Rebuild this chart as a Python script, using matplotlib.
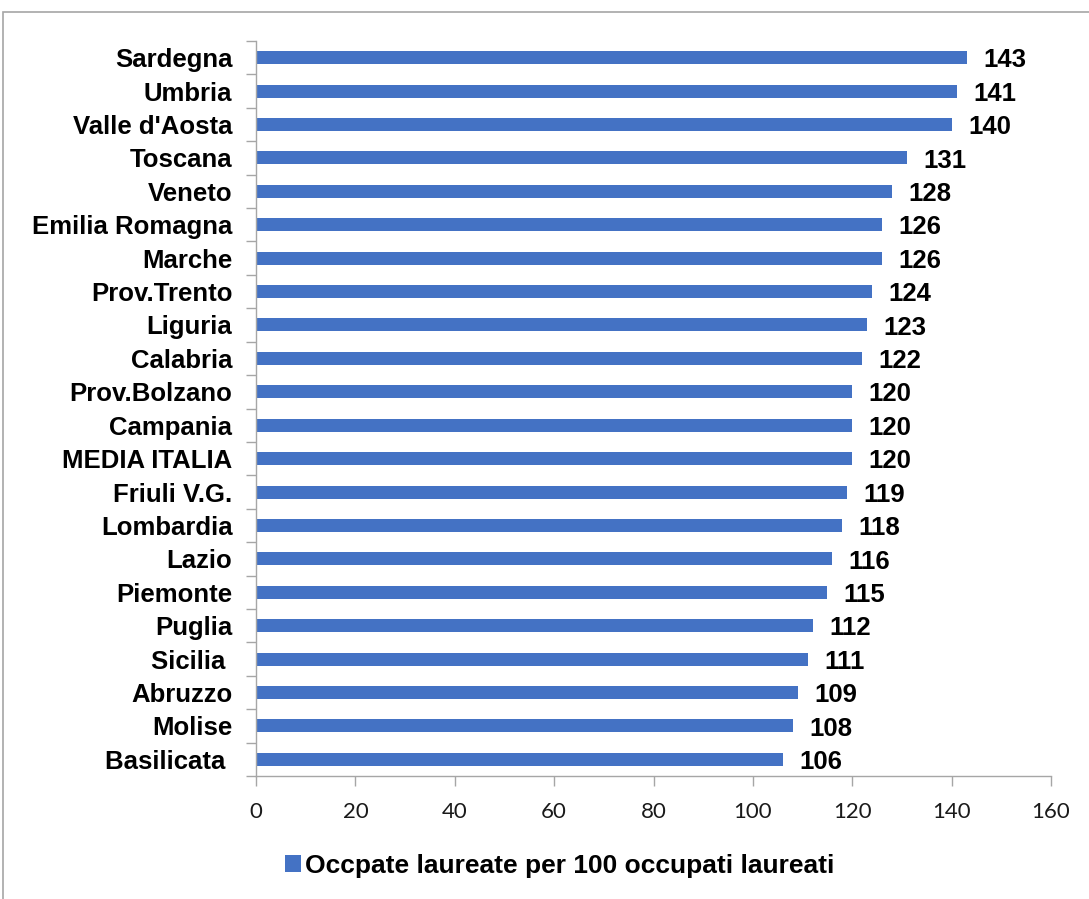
import matplotlib
matplotlib.use("Agg")
import matplotlib.pyplot as plt
from matplotlib.patches import Rectangle
import numpy as np

plt.rcParams['font.family'] = ['Liberation Sans', 'DejaVu Sans']

regions = ["Sardegna", "Umbria", "Valle d'Aosta", "Toscana", "Veneto",
           "Emilia Romagna", "Marche", "Prov.Trento", "Liguria", "Calabria",
           "Prov.Bolzano", "Campania", "MEDIA ITALIA", "Friuli V.G.",
           "Lombardia", "Lazio", "Piemonte", "Puglia", "Sicilia ",
           "Abruzzo", "Molise", "Basilicata "]
values = [143, 141, 140, 131, 128, 126, 126, 124, 123, 122, 120, 120, 120,
          119, 118, 116, 115, 112, 111, 109, 108, 106]
x_ticks = [0, 20, 40, 60, 80, 100, 120, 140, 160]
series_name = "Occpate laureate per 100 occupati laureati"

bar_color = "#4472C4"
grey = "#A6A6A6"

fig = plt.figure(figsize=(10.89, 8.99), dpi=100)
ax = fig.add_axes([256 / 1089, 1 - 776 / 899, 795 / 1089, 735 / 899])

n = len(regions)
y = np.arange(n)[::-1]
bars = ax.barh(y, values, height=0.39, color=bar_color, label=series_name)

for yi, v in zip(y, values):
    ax.text(v + 3.3, yi - 0.08, f"{v}", va="center", ha="left",
            fontsize=18.5, fontweight="bold", color="black")

ax.set_xlim(0, 160)
ax.set_ylim(-0.5, n - 0.5)
ax.set_xticks(x_ticks)
ax.set_xticklabels([str(t) for t in x_ticks], fontsize=16,
                   family=["Lato", "DejaVu Sans"], color="#1a1a1a")
ax.set_yticks(y)
ax.set_yticklabels(regions, fontsize=18.5, fontweight="bold")
ax.set_yticks(np.arange(-0.5, n, 1.0), minor=True)
ax.tick_params(axis="y", which="major", length=0, pad=17)
ax.tick_params(axis="y", which="minor", length=7, color=grey, width=1)
ax.tick_params(axis="x", which="major", length=7, color=grey, width=1, pad=12)

for side in ["top", "right"]:
    ax.spines[side].set_visible(False)
for side in ["left", "bottom"]:
    ax.spines[side].set_color(grey)
    ax.spines[side].set_linewidth(1)

leg = fig.legend(handles=[bars], labels=[series_name],
                 loc="center", bbox_to_anchor=(0.514, 1 - 866 / 899),
                 frameon=False, handlelength=0.6, handleheight=0.6,
                 handletextpad=0.15,
                 prop={"size": 19, "weight": "bold"})

# chart frame
fig.patches.append(Rectangle((3 / 1089, -0.05), 1.2, 1 - 12 / 899 + 0.05,
                             transform=fig.transFigure, fill=False,
                             edgecolor=grey, linewidth=1.2))

fig.savefig("out.png", dpi=100)
